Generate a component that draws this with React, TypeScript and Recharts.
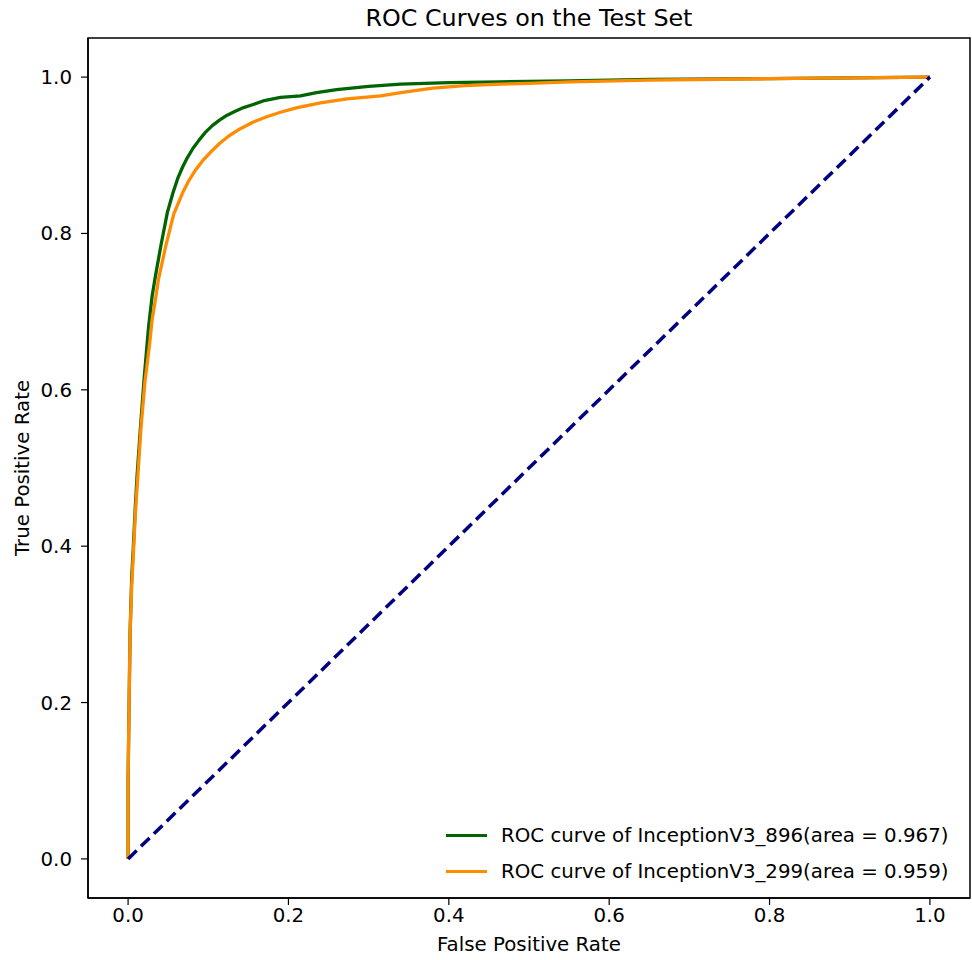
import React from 'react';
import { LineChart, Line, XAxis, YAxis, ReferenceArea, Legend } from 'recharts';

const FONT = '"DejaVu Sans", sans-serif';
const FS = 19.8;

const xTicks = [0, 0.2, 0.4, 0.6, 0.8, 1.0];
const yTicks = [0, 0.2, 0.4, 0.6, 0.8, 1.0];

const seriesNames = [
  'ROC curve of InceptionV3_896(area = 0.967)',
  'ROC curve of InceptionV3_299(area = 0.959)',
];
const seriesColors = ['#006400', '#ff8c00'];

const greenFpr = [0, 0.0, 0.001, 0.0025, 0.0045, 0.0066, 0.009, 0.0112, 0.0153, 0.02, 0.0255, 0.03, 0.034, 0.041, 0.049, 0.056, 0.0618, 0.068, 0.074, 0.081, 0.089, 0.097, 0.105, 0.114, 0.123, 0.133, 0.144, 0.156, 0.17, 0.19, 0.215, 0.235, 0.26, 0.3, 0.34, 0.4, 0.464, 0.55, 0.65, 0.8, 0.9, 1.0];
const greenTpr = [0, 0.1, 0.18, 0.29, 0.36, 0.4, 0.45, 0.49, 0.55, 0.614, 0.68, 0.72, 0.745, 0.785, 0.827, 0.852, 0.87, 0.885, 0.897, 0.909, 0.92, 0.93, 0.938, 0.945, 0.951, 0.956, 0.961, 0.965, 0.97, 0.974, 0.976, 0.98, 0.984, 0.988, 0.991, 0.993, 0.994, 0.995, 0.997, 0.998, 0.999, 1.0];

const orangeFpr = [0, 0.0, 0.001, 0.0025, 0.0045, 0.0066, 0.009, 0.0115, 0.016, 0.021, 0.027, 0.03, 0.034, 0.038, 0.047, 0.057, 0.068, 0.076, 0.084, 0.093, 0.103, 0.114, 0.126, 0.14, 0.155, 0.172, 0.19, 0.211, 0.24, 0.273, 0.315, 0.34, 0.38, 0.42, 0.464, 0.5, 0.55, 0.65, 0.8, 0.9, 1.0];
const orangeTpr = [0, 0.1, 0.18, 0.29, 0.35, 0.39, 0.44, 0.48, 0.55, 0.61, 0.66, 0.69, 0.715, 0.742, 0.784, 0.825, 0.852, 0.868, 0.881, 0.893, 0.904, 0.915, 0.925, 0.934, 0.942, 0.949, 0.955, 0.961, 0.967, 0.972, 0.976, 0.98, 0.986, 0.989, 0.991, 0.992, 0.994, 0.996, 0.998, 0.999, 1.0];

const chanceFpr = [0, 1];
const chanceTpr = [0, 1];

const toPoints = (xs: number[], ys: number[]) => xs.map((x, i) => ({ x, y: ys[i] }));
const greenData = toPoints(greenFpr, greenTpr);
const orangeData = toPoints(orangeFpr, orangeTpr);
const chanceData = toPoints(chanceFpr, chanceTpr);

const renderLegend = () => (
  <div style={{ fontFamily: FONT, fontSize: FS, color: '#000' }}>
    {seriesNames.map((name, i) => (
      <div key={name} style={{ display: 'flex', alignItems: 'center', height: 36, whiteSpace: 'nowrap' }}>
        <span style={{ display: 'inline-block', width: 41, height: 3, background: seriesColors[i], marginRight: 14 }} />
        <span>{name}</span>
      </div>
    ))}
  </div>
);

export default function App() {
  const tickStyle = { fill: '#000', fontSize: FS, fontFamily: FONT };
  return (
    <div style={{ position: 'absolute', left: 0, top: 0, background: '#fff' }}>
      <LineChart width={972} height={960} margin={{ top: 38, right: 2, bottom: 0, left: 0 }}>
        <XAxis
          type="number"
          dataKey="x"
          domain={[-0.05, 1.05]}
          ticks={xTicks}
          allowDataOverflow
          tickFormatter={(v: number) => v.toFixed(1)}
          tick={tickStyle}
          tickSize={7}
          tickMargin={3}
          height={62}
          stroke="#000"
          tickLine={{ stroke: '#000', strokeWidth: 1.2 }}
          axisLine={{ stroke: '#000', strokeWidth: 1.5 }}
          label={{
            content: (props: any) => {
              const vb = props.viewBox || { x: 88, y: 898, width: 882, height: 62 };
              return (
                <text x={vb.x + vb.width / 2} y={vb.y + 53} textAnchor="middle" fontFamily={FONT} fontSize={FS} fill="#000">
                  False Positive Rate
                </text>
              );
            },
          }}
        />
        <YAxis
          type="number"
          dataKey="y"
          domain={[-0.05, 1.05]}
          ticks={yTicks}
          allowDataOverflow
          tickFormatter={(v: number) => v.toFixed(1)}
          tick={tickStyle}
          tickSize={7}
          tickMargin={9}
          width={88}
          stroke="#000"
          tickLine={{ stroke: '#000', strokeWidth: 1.2 }}
          axisLine={{ stroke: '#000', strokeWidth: 1.5 }}
          label={{
            content: (props: any) => {
              const vb = props.viewBox || { x: 0, y: 38, width: 88, height: 860 };
              const cx = vb.x + 22;
              const cy = vb.y + vb.height / 2;
              return (
                <text x={cx} y={cy} transform={`rotate(-90, ${cx}, ${cy})`} textAnchor="middle" dominantBaseline="central" fontFamily={FONT} fontSize={FS} fill="#000">
                  True Positive Rate
                </text>
              );
            },
          }}
        />
        <ReferenceArea
          x1={-0.05}
          x2={1.05}
          y1={-0.05}
          y2={1.05}
          fill="none"
          stroke="#000"
          strokeWidth={1.5}
          ifOverflow="visible"
          label={{
            content: (props: any) => {
              const vb = props.viewBox || { x: 88, y: 38, width: 882, height: 860 };
              return (
                <text x={vb.x + vb.width / 2} y={vb.y - 12} textAnchor="middle" fontFamily={FONT} fontSize={23.8} fill="#000">
                  ROC Curves on the Test Set
                </text>
              );
            },
          }}
        />
        <Line data={greenData} dataKey="y" type="linear" stroke={seriesColors[0]} strokeWidth={3.3} strokeLinejoin="round" dot={false} activeDot={false} isAnimationActive={false} name={seriesNames[0]} />
        <Line data={orangeData} dataKey="y" type="linear" stroke={seriesColors[1]} strokeWidth={3.3} strokeLinejoin="round" dot={false} activeDot={false} isAnimationActive={false} name={seriesNames[1]} />
        <Line data={chanceData} dataKey="y" type="linear" stroke="#000080" strokeWidth={3.5} strokeDasharray="12 6" dot={false} activeDot={false} isAnimationActive={false} legendType="none" />
        <Legend
          content={renderLegend}
          layout="vertical"
          align="center"
          verticalAlign="middle"
          wrapperStyle={{ left: 446, top: 817, width: 524 }}
        />
      </LineChart>
    </div>
  );
}
